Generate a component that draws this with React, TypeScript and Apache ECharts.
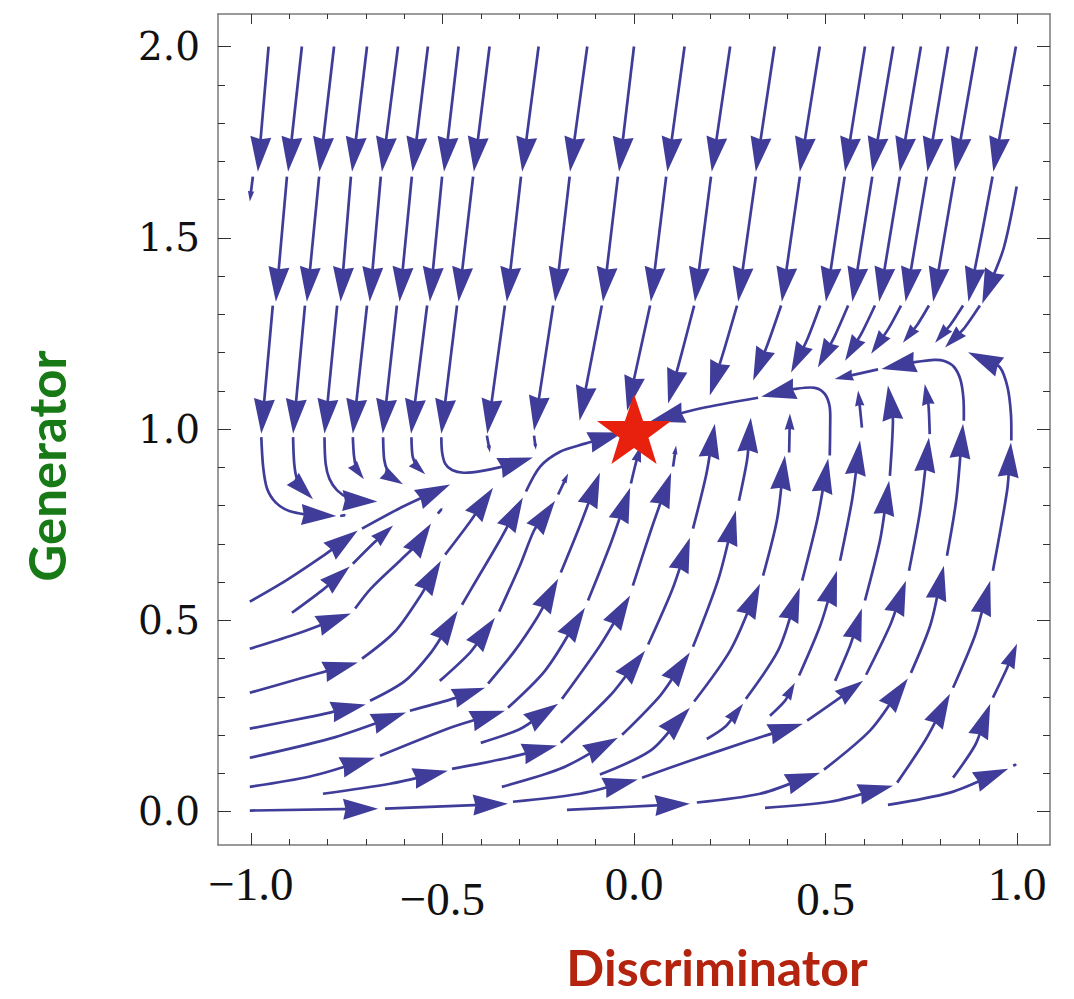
import { useEffect, useRef } from 'react';
import * as echarts from 'echarts';

type Pt = [number, number];
type Seg = Pt[];

// ---------- axes ----------
const X_RANGE: Pt = [-1.086, 1.086];
const Y_RANGE: Pt = [-0.087, 2.085];
const xMajorTicks = [-1, -0.5, 0, 0.5, 1];
const xTickLabels = ['−1.0', '−0.5', '0.0', '0.5', '1.0'];
const xMinorTicks = [-0.9, -0.8, -0.7, -0.6, -0.4, -0.3, -0.2, -0.1, 0.1, 0.2, 0.3, 0.4, 0.6, 0.7, 0.8, 0.9];
const yMajorTicks = [0, 0.5, 1, 1.5, 2];
const yTickLabels = ['0.0', '0.5', '1.0', '1.5', '2.0'];
const yMinorTicks = [0.1, 0.2, 0.3, 0.4, 0.6, 0.7, 0.8, 0.9, 1.1, 1.2, 1.3, 1.4, 1.6, 1.7, 1.8, 1.9];

// ---------- equilibrium ----------
const equilibrium: Pt[] = [[0, 1]];

// ---------- upper rows of stream segments (start x, arrow-tip x) ----------
const ROW1_Y: Pt = [2.0, 1.673];
const row1StartX = [-0.954, -0.867, -0.783, -0.697, -0.616, -0.538, -0.458, -0.377, -0.249, -0.122, 0, 0.132, 0.251, 0.367, 0.485, 0.603, 0.677, 0.749, 0.82, 0.895, 0.997];
const row1TipX = [-0.982, -0.903, -0.821, -0.736, -0.658, -0.578, -0.496, -0.418, -0.292, -0.167, -0.039, 0.087, 0.203, 0.318, 0.433, 0.551, 0.622, 0.694, 0.766, 0.838, 0.938];

const ROW2_Y: Pt = [1.66, 1.333];
const row2StartX = [-0.906, -0.822, -0.739, -0.661, -0.58, -0.501, -0.42, -0.295, -0.168, -0.042, 0.084, 0.201, 0.318, 0.433, 0.55, 0.622, 0.694, 0.764, 0.837];
const row2TipX = [-0.935, -0.854, -0.766, -0.69, -0.612, -0.533, -0.458, -0.332, -0.206, -0.081, 0.044, 0.159, 0.272, 0.386, 0.501, 0.57, 0.64, 0.709, 0.781];
const row2Extra: Seg[] = [
  [[-0.995, 1.66], [-1.003, 1.595]],
  [[0.936, 1.66], [0.909, 1.516], [0.873, 1.333]],
  [[0.999, 1.634], [0.966, 1.476], [0.909, 1.328]],
];

const row3: Seg[] = [
  [[-0.943, 1.323], [-0.973, 0.988]],
  [[-0.859, 1.323], [-0.89, 0.988]],
  [[-0.775, 1.323], [-0.808, 0.988]],
  [[-0.697, 1.323], [-0.734, 0.988]],
  [[-0.619, 1.323], [-0.656, 0.988]],
  [[-0.54, 1.323], [-0.582, 0.988]],
  [[-0.462, 1.323], [-0.503, 0.988]],
  [[-0.337, 1.323], [-0.383, 0.988]],
  [[-0.211, 1.323], [-0.261, 0.996]],
  [[-0.084, 1.323], [-0.142, 1.022]],
  [[0.042, 1.323], [-0.018, 1.048]],
  [[0.157, 1.323], [0.125, 1.2], [0.089, 1.067]],
  [[0.269, 1.323], [0.236, 1.21], [0.198, 1.088]],
  [[0.384, 1.323], [0.35, 1.225], [0.311, 1.127]],
  [[0.486, 1.323], [0.453, 1.236], [0.41, 1.148]],
  [[0.559, 1.323], [0.524, 1.243], [0.48, 1.161]],
  [[0.629, 1.323], [0.595, 1.252], [0.551, 1.179]],
  [[0.697, 1.323], [0.664, 1.262], [0.619, 1.197]],
  [[0.77, 1.323], [0.741, 1.275], [0.702, 1.226]],
  [[0.859, 1.323], [0.827, 1.274], [0.786, 1.226]],
  [[0.903, 1.323], [0.863, 1.265], [0.812, 1.213]],
];

// ---------- curls on the left, below the generator = 1 line ----------
const leftCurls: Seg[] = [
  [[-0.973, 0.979], [-0.968, 0.9], [-0.958, 0.845], [-0.935, 0.808], [-0.9, 0.786], [-0.85, 0.776], [-0.777, 0.773]],
  [[-0.767, 0.773], [-0.75, 0.776]],
  [[-0.89, 0.979], [-0.887, 0.91], [-0.88, 0.87], [-0.866, 0.845], [-0.838, 0.817]],
  [[-0.808, 0.979], [-0.805, 0.91], [-0.795, 0.87], [-0.775, 0.84], [-0.745, 0.82], [-0.71, 0.812], [-0.67, 0.811]],
  [[-0.734, 0.979], [-0.731, 0.93], [-0.725, 0.895], [-0.705, 0.869]],
  [[-0.655, 0.979], [-0.652, 0.92], [-0.643, 0.89], [-0.627, 0.87], [-0.603, 0.856]],
  [[-0.581, 0.979], [-0.578, 0.93], [-0.568, 0.903], [-0.545, 0.882]],
  [[-0.503, 0.979], [-0.501, 0.94], [-0.493, 0.91], [-0.475, 0.893], [-0.445, 0.886], [-0.4, 0.89], [-0.33, 0.905], [-0.264, 0.926]],
  [[-0.384, 0.983], [-0.376, 0.939]],
  [[-0.261, 0.983], [-0.256, 0.946]],
];

// ---------- streams entering from the left edge ----------
const leftStreams: Seg[] = [
  [[-1.003, 0.549], [-0.909, 0.604], [-0.807, 0.672], [-0.721, 0.735]],
  [[-0.71, 0.74], [-0.608, 0.795], [-0.48, 0.855]],
  [[-0.893, 0.52], [-0.815, 0.578], [-0.742, 0.641]],
  [[-0.734, 0.648], [-0.681, 0.701], [-0.629, 0.748]],
  [[-1.003, 0.426], [-0.872, 0.468], [-0.739, 0.518]],
  [[-0.728, 0.531], [-0.687, 0.583], [-0.611, 0.656], [-0.564, 0.701], [-0.53, 0.753]],
  [[-0.512, 0.779], [-0.499, 0.795]],
  [[-1.003, 0.311], [-0.872, 0.348], [-0.721, 0.39]],
  [[-0.71, 0.4], [-0.624, 0.471], [-0.559, 0.562], [-0.504, 0.656]],
  [[-0.493, 0.672], [-0.428, 0.758], [-0.368, 0.847]],
  [[-1.003, 0.217], [-0.846, 0.248], [-0.7, 0.28]],
  [[-0.689, 0.29], [-0.598, 0.342], [-0.53, 0.416], [-0.46, 0.525]],
  [[-0.449, 0.541], [-0.415, 0.599], [-0.355, 0.701], [-0.29, 0.821]],
  [[-0.282, 0.837], [-0.245, 0.902], [-0.193, 0.941], [-0.128, 0.962], [-0.029, 0.991]],
  [[-1.003, 0.141], [-0.794, 0.191], [-0.595, 0.259]],
  [[-0.585, 0.264], [-0.48, 0.293], [-0.389, 0.324]],
  [[-0.381, 0.335], [-0.311, 0.421], [-0.253, 0.507], [-0.198, 0.609]],
  [[-0.191, 0.625], [-0.141, 0.748], [-0.089, 0.886]],
  [[-1.003, 0.065], [-0.846, 0.092], [-0.676, 0.141]],
  [[-0.663, 0.146], [-0.478, 0.22], [-0.337, 0.264]],
  [[-0.329, 0.272], [-0.232, 0.369], [-0.128, 0.533]],
  [[-0.12, 0.552], [-0.063, 0.695], [-0.01, 0.847]],
  [[-0.008, 0.858], [0.005, 0.912], [0.018, 0.957]],
];

// ---------- central streams rising towards the equilibrium ----------
const centralStreams: Seg[] = [
  [[-0.812, 0.047], [-0.637, 0.073], [-0.486, 0.107]],
  [[-0.475, 0.112], [-0.337, 0.139], [-0.201, 0.173]],
  [[-0.191, 0.18], [-0.063, 0.303], [0.029, 0.421]],
  [[0.037, 0.437], [0.099, 0.578], [0.146, 0.716]],
  [[0.154, 0.74], [0.188, 0.878], [0.211, 1.014]],
  [[-0.345, 0.065], [-0.193, 0.112], [-0.042, 0.193]],
  [[-0.031, 0.201], [0.068, 0.303], [0.146, 0.416]],
  [[0.154, 0.431], [0.219, 0.604], [0.266, 0.787]],
  [[0.274, 0.813], [0.295, 0.918], [0.305, 1.03]],
  [[-0.507, 0.342], [-0.428, 0.416], [-0.363, 0.507]],
  [[-0.352, 0.523], [-0.298, 0.643], [-0.261, 0.735], [-0.206, 0.813]],
  [[-0.198, 0.829], [-0.172, 0.884]],
  [[-0.4, 0.18], [-0.3, 0.215], [-0.198, 0.282]],
  [[-0.188, 0.295], [-0.089, 0.434], [-0.01, 0.565]],
  [[-0.003, 0.591], [0.044, 0.735], [0.097, 0.886]],
  [[0.102, 0.902], [0.11, 0.957]],
  [[-0.089, 0.097], [0.042, 0.159], [0.146, 0.272]],
  [[0.157, 0.288], [0.251, 0.421], [0.329, 0.596]],
  [[0.337, 0.617], [0.373, 0.761], [0.394, 0.931]],
  [[0.405, 0.939], [0.407, 1.041]],
  [[0.19, 0.19], [0.238, 0.222], [0.285, 0.282]],
  [[0.292, 0.295], [0.376, 0.421], [0.433, 0.586]],
  [[0.439, 0.604], [0.478, 0.761], [0.507, 0.923]],
  [[0.355, 0.251], [0.394, 0.29], [0.42, 0.337]],
  [[0.431, 0.356], [0.486, 0.486], [0.53, 0.63]],
  [[0.538, 0.656], [0.569, 0.813], [0.59, 0.97]],
  [[0.595, 1.004], [0.59, 1.054], [0.585, 1.101]],
  [[0.525, 0.342], [0.564, 0.434], [0.595, 0.531]],
  [[0.603, 0.552], [0.642, 0.708], [0.666, 0.865]],
  [[0.668, 0.878], [0.676, 1.022], [0.663, 1.114]],
];

// ---------- streams along the bottom, bending upward on the right ----------
const bottomStreams: Seg[] = [
  [[-1.003, 0.003], [-0.668, 0.008]],
  [[-0.65, 0.008], [-0.329, 0.021]],
  [[-0.316, 0.026], [-0.141, 0.047], [0.01, 0.084]],
  [[0.021, 0.089], [0.146, 0.133], [0.303, 0.186], [0.441, 0.23]],
  [[0.452, 0.238], [0.538, 0.298], [0.598, 0.342]],
  [[0.606, 0.358], [0.668, 0.486], [0.71, 0.604]],
  [[0.718, 0.63], [0.747, 0.787], [0.77, 0.978]],
  [[0.772, 0.987], [0.769, 1.06], [0.759, 1.118]],
  [[-0.175, 0.005], [-0.01, 0.013], [0.146, 0.021]],
  [[0.164, 0.024], [0.329, 0.047], [0.486, 0.102]],
  [[0.496, 0.11], [0.616, 0.212], [0.715, 0.348]],
  [[0.723, 0.363], [0.773, 0.486], [0.809, 0.643]],
  [[0.817, 0.669], [0.841, 0.813], [0.859, 1.014]],
  [[0.342, 0.01], [0.512, 0.026], [0.676, 0.068]],
  [[0.687, 0.076], [0.76, 0.186], [0.825, 0.308]],
  [[0.833, 0.324], [0.89, 0.46], [0.93, 0.604]],
  [[0.937, 0.63], [0.974, 0.839], [0.984, 0.965]],
  [[0.663, 0.018], [0.825, 0.05], [0.977, 0.112]],
  [[0.99, 0.12], [1.0, 0.125]],
  [[0.833, 0.089], [0.89, 0.173], [0.93, 0.282]],
  [[0.937, 0.298], [0.971, 0.369], [1.0, 0.439]],
];

// ---------- loops on the right that turn back to the equilibrium ----------
const rightLoops: Seg[] = [
  [[0.511, 0.931], [0.512, 1.0], [0.511, 1.057], [0.498, 1.092], [0.472, 1.108], [0.42, 1.105], [0.332, 1.085]],
  [[0.324, 1.082], [0.172, 1.054], [0.042, 1.02]],
  [[0.861, 1.022], [0.86, 1.08], [0.852, 1.13], [0.835, 1.163], [0.81, 1.178], [0.785, 1.181], [0.733, 1.175], [0.646, 1.157]],
  [[0.637, 1.156], [0.524, 1.131]],
  [[0.985, 0.97], [0.984, 1.04], [0.975, 1.11], [0.955, 1.162], [0.872, 1.201]],
];

const buildRow = (startX: number[], tipX: number[], ys: Pt): Seg[] =>
  startX.map((x, i) => [[x, ys[0]], [tipX[i], ys[1]]] as Seg);

const allSegments: Seg[] = [
  ...buildRow(row1StartX, row1TipX, ROW1_Y),
  ...buildRow(row2StartX, row2TipX, ROW2_Y),
  ...row2Extra,
  ...row3,
  ...leftCurls,
  ...leftStreams,
  ...centralStreams,
  ...bottomStreams,
  ...rightLoops,
];

const STREAM_COLOR = '#3f3d99';
const ARROW_LEN = 35;
const ARROW_HALF_W = 10.5;

const renderStream = (params: any, api: any) => {
  const seg = allSegments[params.dataIndex];
  const pts: number[][] = seg.map((p) => api.coord(p));
  const n = pts.length;
  let total = 0;
  for (let i = 1; i < n; i++) total += Math.hypot(pts[i][0] - pts[i - 1][0], pts[i][1] - pts[i - 1][1]);
  const tip = pts[n - 1];
  const prev = pts[n - 2];
  let dx = tip[0] - prev[0];
  let dy = tip[1] - prev[1];
  const d = Math.hypot(dx, dy) || 1;
  dx /= d;
  dy /= d;
  const L = Math.min(ARROW_LEN, total * 0.42);
  const hw = (ARROW_HALF_W * L) / ARROW_LEN;
  const bx = tip[0] - dx * L;
  const by = tip[1] - dy * L;
  const nx = -dy;
  const ny = dx;
  const notch = [tip[0] - dx * L * 0.93, tip[1] - dy * L * 0.93];
  const head = [tip, [bx + nx * hw, by + ny * hw], notch, [bx - nx * hw, by - ny * hw]];
  const cut = L * 0.6;
  let linePts: number[][];
  if (d > cut) linePts = [...pts.slice(0, n - 1), [tip[0] - dx * cut, tip[1] - dy * cut]];
  else linePts = pts.slice(0, n - 1).length >= 2 ? pts.slice(0, n - 1) : [prev, notch];
  return {
    type: 'group',
    children: [
      {
        type: 'polyline',
        shape: { points: linePts, smooth: linePts.length > 2 ? 0.3 : 0 },
        style: { stroke: STREAM_COLOR, lineWidth: 2.7, fill: null, lineCap: 'butt', lineJoin: 'round' },
      },
      { type: 'polygon', shape: { points: head }, style: { fill: STREAM_COLOR, stroke: null } },
    ],
  };
};

const STAR_PATH =
  'path://M50,0 L61.8,35.1 L98.1,35.1 L68.8,56.7 L79.4,91 L50,70 L20.6,91 L31.2,56.7 L1.9,35.1 L38.2,35.1 Z';

const frameLine = { show: true, onZero: false, lineStyle: { color: '#7a7a7a', width: 1.5 } };
const tickStyle = { color: '#333', width: 1 };

const xLabelFormatter = (v: number) => {
  const i = xMajorTicks.findIndex((t) => Math.abs(t - v) < 1e-9);
  const s = i >= 0 ? xTickLabels[i] : '';
  return Math.abs(Math.abs(v) - 0.5) < 1e-9 ? `{lo|${s}}` : `{hi|${s}}`;
};
const yLabelFormatter = (v: number) => {
  const i = yMajorTicks.findIndex((t) => Math.abs(t - v) < 1e-9);
  return i >= 0 ? yTickLabels[i] : '';
};

const makeX = (position: string, ticks: number[], len: number, line: boolean, labels: boolean) => ({
  type: 'value',
  min: X_RANGE[0],
  max: X_RANGE[1],
  position,
  splitLine: { show: false },
  axisLine: line ? frameLine : { show: false, onZero: false },
  axisTick: { show: true, inside: true, length: len, customValues: ticks, lineStyle: tickStyle },
  axisLabel: labels
    ? {
        show: true,
        customValues: xMajorTicks,
        formatter: xLabelFormatter,
        margin: 16,
        rich: {
          hi: { fontFamily: 'Liberation Serif', fontSize: 47, lineHeight: 46, color: '#111' },
          lo: { fontFamily: 'Liberation Serif', fontSize: 47, lineHeight: 46, color: '#111', padding: [30, 0, 0, 0] },
        },
      }
    : { show: false },
});

const makeY = (position: string, ticks: number[], len: number, line: boolean, labels: boolean) => ({
  type: 'value',
  min: Y_RANGE[0],
  max: Y_RANGE[1],
  position,
  splitLine: { show: false },
  axisLine: line ? frameLine : { show: false, onZero: false },
  axisTick: { show: true, inside: true, length: len, customValues: ticks, lineStyle: tickStyle },
  axisLabel: labels
    ? {
        show: true,
        customValues: yMajorTicks,
        formatter: yLabelFormatter,
        margin: 18,
        fontFamily: 'DejaVu Serif',
        fontSize: 39,
        color: '#111',
      }
    : { show: false },
});

export default function App() {
  const ref = useRef<HTMLDivElement>(null);
  useEffect(() => {
    document.body.style.margin = '0';
    if (!ref.current) return;
    const chart = echarts.init(ref.current, null, { renderer: 'svg' });
    chart.setOption({
      animation: false,
      backgroundColor: '#ffffff',
      grid: { left: 218, right: 24, top: 14, bottom: 154, containLabel: false },
      xAxis: [
        makeX('bottom', xMajorTicks, 12, true, true),
        makeX('bottom', xMinorTicks, 6, false, false),
        makeX('top', xMajorTicks, 10, true, false),
        makeX('top', xMinorTicks, 5, false, false),
      ],
      yAxis: [
        makeY('left', yMajorTicks, 13, true, true),
        makeY('left', yMinorTicks, 7, false, false),
        makeY('right', yMajorTicks, 13, true, false),
        makeY('right', yMinorTicks, 7, false, false),
      ],
      series: [
        {
          type: 'custom',
          xAxisIndex: 0,
          yAxisIndex: 0,
          clip: false,
          silent: true,
          renderItem: renderStream,
          encode: { x: 0, y: 1 },
          data: allSegments.map((s) => [s[s.length - 1][0], s[s.length - 1][1]]),
          z: 2,
        },
        {
          type: 'scatter',
          xAxisIndex: 0,
          yAxisIndex: 0,
          data: equilibrium,
          symbol: STAR_PATH,
          symbolSize: [74, 70],
          itemStyle: { color: '#e8200e', opacity: 1 },
          silent: true,
          z: 5,
        },
      ],
      graphic: [
        {
          type: 'text',
          x: 46,
          y: 466,
          rotation: Math.PI / 2,
          style: {
            text: 'Generator',
            fill: '#177a17',
            font: 'bold 51px Lato',
            align: 'center',
            verticalAlign: 'middle',
          },
        },
        {
          type: 'text',
          x: 717,
          y: 967,
          style: {
            text: 'Discriminator',
            fill: '#b3230e',
            font: 'bold 50px Lato',
            lineHeight: 50,
            align: 'center',
            verticalAlign: 'middle',
          },
        },
      ],
    });
    return () => chart.dispose();
  }, []);
  return <div ref={ref} style={{ width: 1074, height: 999 }} />;
}
